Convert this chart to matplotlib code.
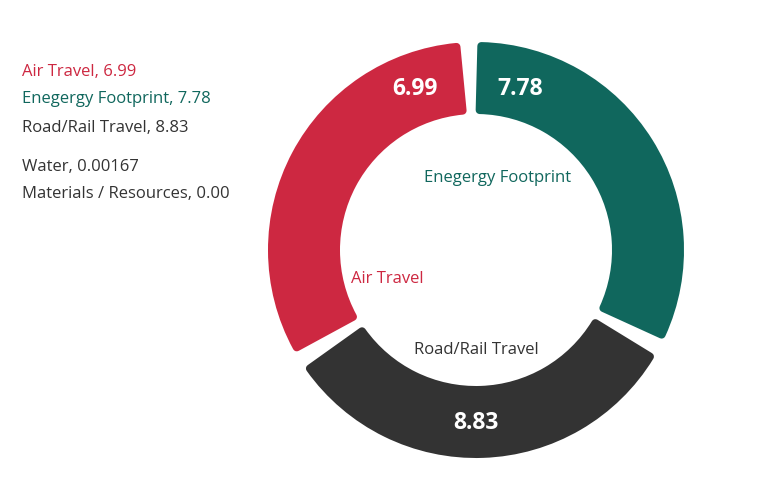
import numpy as np
import matplotlib.pyplot as plt

plt.rcParams['font.family'] = ['Open Sans', 'DejaVu Sans']

# donnees du graphique
categories = ['Air Travel', 'Enegergy Footprint', 'Road/Rail Travel', 'Water', 'Materials / Resources']
values = [6.99, 7.78, 8.83, 0.00167, 0.00]
value_labels = ['6.99', '7.78', '8.83', '0.00167', '0.00']
colors = ['#CD2841', '#10675D', '#333333', '#333333', '#333333']

# l'anneau montre les trois grandes categories, en partant du haut (sens horaire)
ring_order = [1, 2, 0]

W, H = 768, 501
cx, cy = 476, 251          # centre de l'anneau (pixels, y vers le haut)
R, ring_w = 208, 72        # rayon exterieur, epaisseur
rc = 4                     # rayon des coins arrondis (px)
gap = 13                   # espace blanc entre les parts (px)
px2pt = 72 / 100

fig = plt.figure(figsize=(W / 100, H / 100), dpi=100)
ax = fig.add_axes([0, 0, 1, 1])

# chaque categorie occupe la meme part de l'anneau, comme sur l'original
shares = np.ones(len(ring_order))
wedges, _ = ax.pie(shares, colors=[colors[i] for i in ring_order],
                   startangle=92, counterclock=False, center=(cx, cy),
                   radius=R - rc, frame=True,
                   wedgeprops=dict(width=ring_w - 2 * rc, linewidth=2 * rc * px2pt,
                                   joinstyle='round'))

# on reduit chaque part pour laisser un espace et arrondir les coins
pad = np.degrees((gap / 2 + rc) / (R - ring_w / 2))
for w in wedges:
    w.set_edgecolor(w.get_facecolor())
    w.set_theta1(w.theta1 + pad)
    w.set_theta2(w.theta2 - pad)

# valeurs en blanc dans l'anneau (decalage depuis le centre)
value_pos = {0: (-61, 155), 1: (44, 155), 2: (0, -179)}
for i, (dx, dy) in value_pos.items():
    ax.text(cx + dx, cy + dy, value_labels[i], color='white', fontsize=16.5,
            fontweight='bold', ha='center', va='baseline')

# noms dans le trou du donut
name_pos = {0: (-89, -33), 1: (22, 68), 2: (0, -104)}
for i, (dx, dy) in name_pos.items():
    ax.text(cx + dx, cy + dy, categories[i], color=colors[i], fontsize=12,
            ha='center', va='baseline')

# legende a gauche
leg_y = [75.7, 103.3, 131.7, 170.7, 198.3]
for i, cat in enumerate(categories):
    ax.text(22, H - leg_y[i], f'{cat}, {value_labels[i]}', color=colors[i],
            fontsize=12, ha='left', va='baseline')

ax.set_xlim(0, W)
ax.set_ylim(0, H)
ax.set_aspect('equal')
ax.axis('off')

fig.savefig('out.png', dpi=100)
